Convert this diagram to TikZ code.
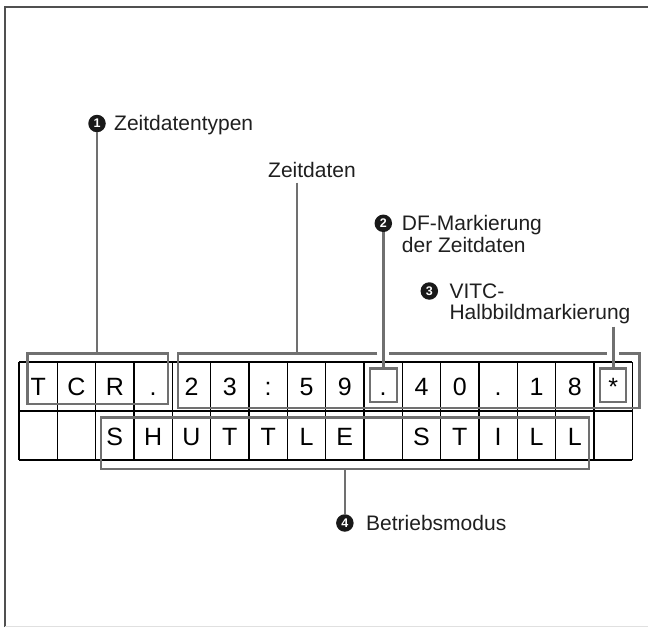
\documentclass[tikz,border=0pt]{standalone}
\usepackage{fontspec}
\setmainfont{Liberation Sans}
\definecolor{brkgray}{RGB}{112,112,112}
\definecolor{framegray}{RGB}{80,80,80}
\begin{document}
\begin{tikzpicture}[x=1pt,y=-1pt,
  gridline/.style={draw=black, line width=1.3pt},
  brk/.style={draw=brkgray, line width=2.4pt},
  brkbox/.style={brk, rectangle, inner sep=0pt, outer sep=0pt},
  cell/.style={font=\fontsize{25}{25}\selectfont, anchor=base, inner sep=0pt},
  lbl/.style={font=\fontsize{21}{22}\selectfont, anchor=base west, inner sep=0pt, text=black!88},
  num/.style={circle, fill=black!90, text=white, inner sep=0pt, minimum size=17.5pt, font=\fontsize{12.5}{12.5}\selectfont\bfseries}]
\useasboundingbox (0,0) rectangle (648,627);
% frame
\draw[draw=framegray, line width=2pt] (5,627) -- (5,7) -- (648,7);
\draw[draw=black!12, line width=1pt] (5,626) -- (648,626);
% grid
\foreach \i in {0,...,16} \draw[gridline] (19+38.33*\i,362) -- (19+38.33*\i,460);
\foreach \yy in {362,411,460} \draw[gridline] (19,\yy) -- (632.3,\yy);
\foreach \c [count=\i from 0] in {T,C,R,.,2,3,:,5,9,.,4,0,.,1,8,*}
  \node[cell] (ra\i) at (19+38.33*\i+19.17,395.7) {\c};
\foreach \i/\c in {2/S,3/H,4/U,5/T,6/T,7/L,8/E,10/S,11/T,12/I,13/L,14/L}
  \node[cell] (rb\i) at (19+38.33*\i+19.17,445.2) {\c};
% brackets
\node[brkbox, minimum width=140.4pt, minimum height=50.7pt] (b1) at (97.5,378.7) {};
\node[brkbox, minimum width=27.3pt, minimum height=33.4pt] (b2) at (383.5,385) {};
\node[brkbox, minimum width=25.7pt, minimum height=33.4pt] (b3) at (613,385) {};
\node[brkbox, minimum width=488.3pt, minimum height=51.5pt] (b4) at (344.85,443.3) {};
\coordinate (zA) at (177.7,353.3);
\coordinate (zB) at (639.3,407.7);
\draw[brk] (377.3,353.3) -- (zA) -- (zA |- zB) -- (zB) -- (zB |- zA) -- (619.3,353.3);
\draw[brk] (389.3,353.3) -- (607.3,353.3);
% labels
\node[num] (n1) at (97,123.5) {1};
\node[lbl] (t1) at (114,130.7) {Zeitdatentypen};
\node[lbl] (tz) at (268,177.7) {Zeitdaten};
\coordinate (zt) at (296.7,182.5);
\coordinate (zb) at (296.7,353.3);
\node[num] (n2) at (383.3,223.3) {2};
\node[lbl] (t2a) at (401.7,230.3) {DF-Markierung};
\node[lbl] (t2b) at (401.7,252.5) {der Zeitdaten};
\node[num] (n3) at (429.3,291) {3};
\node[lbl] (t3a) at (449.3,298.3) {VITC-};
\node[lbl] (t3b) at (449.3,319.8) {Halbbildmarkierung};
\coordinate (c3) at (613.3,326.7);
\node[num] (n4) at (344.85,523) {4};
\node[lbl] (t4) at (366,530) {Betriebsmodus};
% connectors
\draw[brk] (n1.south) -- (n1.south |- b1.north);
\draw[brk] (zt) -- (zb);
\draw[brk] (n2.south) -- (n2.south |- b2.north);
\draw[brk] (c3) -- (c3 |- b3.north);
\draw[brk] (b4.south) -- (n4.north);
\end{tikzpicture}
\end{document}
